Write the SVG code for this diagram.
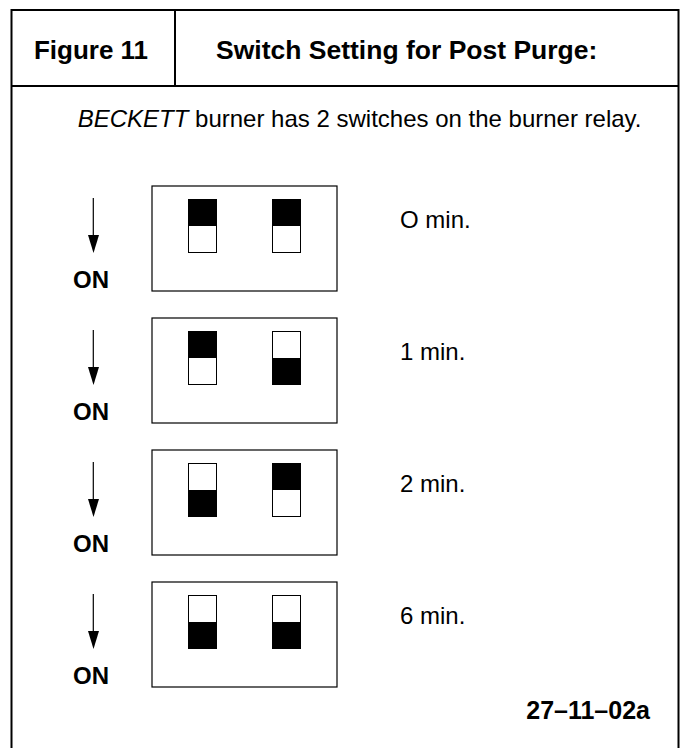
<svg xmlns="http://www.w3.org/2000/svg" width="683" height="748" viewBox="0 0 683 748">
  <style>
    text { font-family: "Liberation Sans", Arial, sans-serif; fill: #000; }
    .head { font-size: 26px; font-weight: bold; }
    .title { font-size: 26.5px; font-weight: bold; }
    .sub { font-size: 24px; }
    .on { font-size: 24px; font-weight: bold; }
    .lbl { font-size: 24px; }
    .ref { font-size: 25px; font-weight: bold; }
    .frame { fill: none; stroke: #000; stroke-width: 2; }
    .box { fill: #fff; stroke: #000; stroke-width: 1.2; }
    .sw { fill: #fff; stroke: #000; stroke-width: 1; }
    .knob { fill: #000; }
    .arrow { stroke: #000; stroke-width: 1.2; fill: none; }
  </style>
  <defs>
    <!-- DIP switch: knob up (off) or knob down (on) -->
    <g id="sw-up">
      <rect class="sw" x="0.5" y="0.5" width="28" height="53"/>
      <rect class="knob" x="0" y="0" width="29" height="27"/>
    </g>
    <g id="sw-down">
      <rect class="sw" x="0.5" y="0.5" width="28" height="53"/>
      <rect class="knob" x="0" y="27" width="29" height="27"/>
    </g>
    <!-- ON direction arrow with label -->
    <g id="on-arrow">
      <line class="arrow" x1="93.3" y1="12" x2="93.3" y2="50"/>
      <polygon points="88,49 99,49 93.5,67" fill="#000"/>
      <text class="on" x="91" y="102" text-anchor="middle">ON</text>
    </g>
  </defs>

  <!-- outer frame and title row -->
  <g id="frame">
    <rect class="frame" x="11.5" y="10" width="667" height="760"/>
    <line class="frame" x1="11.5" y1="86" x2="678.5" y2="86"/>
    <line class="frame" x1="175" y1="10" x2="175" y2="86"/>
  </g>
  <g id="title">
    <text class="head" x="91" y="58.5" text-anchor="middle">Figure 11</text>
    <text class="title" x="406.7" y="58.5" text-anchor="middle">Switch Setting for Post Purge:</text>
  </g>
  <g id="subtitle">
    <text class="sub" x="77.7" y="126.5"><tspan font-style="italic">BECKETT</tspan> burner has 2 switches on the burner relay.</text>
  </g>

  <!-- 0 min: both up -->
  <g id="setting-0" transform="translate(0,186)">
    <use href="#on-arrow"/>
    <rect class="box" x="152" y="0" width="185" height="105"/>
    <use href="#sw-up" x="188" y="13"/>
    <use href="#sw-up" x="272" y="13"/>
    <text class="lbl" x="400" y="41.5">O min.</text>
  </g>

  <!-- 1 min: left up, right down -->
  <g id="setting-1" transform="translate(0,318)">
    <use href="#on-arrow"/>
    <rect class="box" x="152" y="0" width="185" height="105"/>
    <use href="#sw-up" x="188" y="13"/>
    <use href="#sw-down" x="272" y="13"/>
    <text class="lbl" x="400" y="41.5">1 min.</text>
  </g>

  <!-- 2 min: left down, right up -->
  <g id="setting-2" transform="translate(0,450)">
    <use href="#on-arrow"/>
    <rect class="box" x="152" y="0" width="185" height="105"/>
    <use href="#sw-down" x="188" y="13"/>
    <use href="#sw-up" x="272" y="13"/>
    <text class="lbl" x="400" y="41.5">2 min.</text>
  </g>

  <!-- 6 min: both down -->
  <g id="setting-6" transform="translate(0,582)">
    <use href="#on-arrow"/>
    <rect class="box" x="152" y="0" width="185" height="105"/>
    <use href="#sw-down" x="188" y="13"/>
    <use href="#sw-down" x="272" y="13"/>
    <text class="lbl" x="400" y="41.5">6 min.</text>
  </g>

  <g id="reference">
    <text class="ref" x="650" y="718.5" text-anchor="end">27–11–02a</text>
  </g>
</svg>
